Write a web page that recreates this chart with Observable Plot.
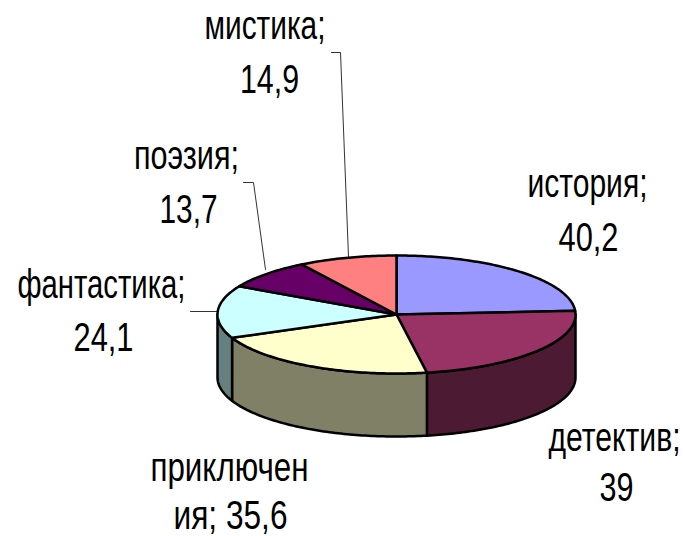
<!DOCTYPE html>
<html><head><meta charset="utf-8">
<script src="https://cdn.jsdelivr.net/npm/d3@7"></script>
<script src="https://cdn.jsdelivr.net/npm/@observablehq/plot@0.6"></script>
<style>html,body{margin:0;padding:0;background:#fff}svg{display:block}</style>
</head><body><div id="chart"></div>
<script>
const categories = ["история","детектив","приключения","фантастика","поэзия","мистика"];
const values = [40.2,39,35.6,24.1,13.7,14.9];
const topColors = ["#9999ff","#993366","#ffffcc","#ccffff","#660066","#ff8080"];
const wallColors = ["#4d4d80","#4d1a33","#808066","#668080","#330033","#804040"];
const labelLines = ["мистика;","14,9","поэзия;","13,7","фантастика;","24,1","история;","40,2","детектив;","39","приключен","ия; 35,6"];
const labelCenters = [264.5,269,186,188,101,103,587,588,614,616,229,230];
const labelBaselines = [38,92,168,222,297,350,196,250,450,500,480,528];
const labelWidths = [121,59,105,58,168,60,120,60,132,34,158,114];
const labelFont = 40;
const leaderPaths = [[[331,52],[340,52],[348,256]],[[243,182],[253,182],[265,269]],[[190,311],[217,311]]];

const W=685,H=536,cx=396,cy=314,rx=179,ry=59,depth=63/59,step=Math.PI/180;
const ux=p=>(p-cx)/rx, uy=p=>(cy-p)/ry;
const total=d3.sum(values);
let acc=0;
const slices=categories.map((name,i)=>{const a0=acc;acc+=values[i]/total*2*Math.PI;return {name,a0,a1:acc,i};});
const rim=a=>({x:Math.sin(a),y:Math.cos(a)});
const arc=(a0,a1)=>{const n=Math.max(2,Math.ceil((a1-a0)/step));return d3.range(n+1).map(k=>rim(a0+(a1-a0)*k/n));};
const topPts=slices.flatMap(s=>[{x:0,y:0},...arc(s.a0,s.a1)].map(p=>({...p,name:s.name})));
const walls=slices.map(s=>{const a0=Math.max(s.a0,Math.PI/2),a1=Math.min(s.a1,3*Math.PI/2);
  if(a1<=a0)return null;const r=arc(a0,a1);
  return {color:wallColors[s.i],pts:[...r,...r.slice().reverse().map(p=>({x:p.x,y:p.y-depth}))]};}).filter(Boolean);
const labels=labelLines.map((t,i)=>({t,w:labelWidths[i],x:ux(labelCenters[i]),y:uy(labelBaselines[i]-0.32*labelFont)}));
const leaders=leaderPaths.map(p=>p.map(([a,b])=>({x:ux(a),y:uy(b)})));

const plot=Plot.plot({width:W,height:H,margin:0,
  style:{background:"#fff"},
  x:{domain:[ux(0),ux(W)],range:[0,W],axis:null},
  y:{domain:[uy(H),uy(0)],range:[H,0],axis:null},
  color:{domain:categories,range:topColors},
  marks:[
    ...leaders.map(l=>Plot.line(l,{x:"x",y:"y",stroke:"#333",strokeWidth:1})),
    ...walls.map(w=>Plot.line(w.pts,{x:"x",y:"y",fill:w.color,stroke:"#000",strokeWidth:2.5,curve:"linear-closed",strokeLinejoin:"round"})),
    Plot.line(topPts,{x:"x",y:"y",z:"name",fill:"name",stroke:"#000",strokeWidth:2.5,curve:"linear-closed",strokeLinejoin:"round"}),
    Plot.text(labels,{x:"x",y:"y",text:"t",fontSize:labelFont,fill:"#000",textAnchor:"middle",lineAnchor:"middle",
      fontFamily:"'Liberation Sans',Arial,sans-serif",className:"pie-label"})
  ]});
document.getElementById("chart").append(plot);
// squeeze the label glyphs horizontally to the condensed look of the reference
d3.select(plot).selectAll(".pie-label text").each(function(){
  const el=this, lbl=labels.find(l=>l.t===el.textContent);
  if(lbl){el.setAttribute("textLength",lbl.w);el.setAttribute("lengthAdjust","spacingAndGlyphs");}
});
</script></body></html>
